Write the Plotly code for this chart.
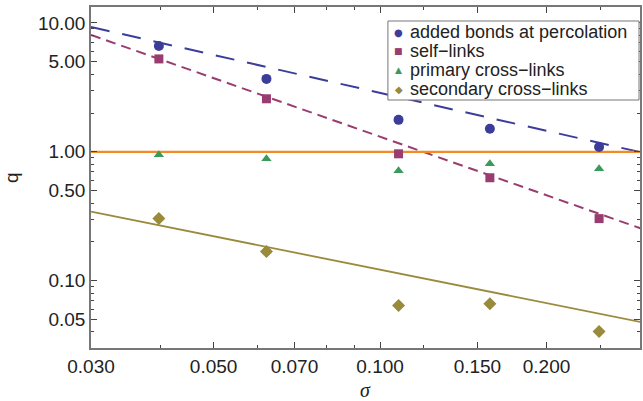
import numpy as np
import plotly.graph_objects as go

# ---- data ----
sigma = [0.0398, 0.0623, 0.108, 0.158, 0.249]
added_bonds = [6.63, 3.68, 1.77, 1.51, 1.09]
self_links = [5.26, 2.58, 0.965, 0.629, 0.303]
primary_cross = [0.948, 0.883, 0.712, 0.807, 0.738]
secondary_cross = [0.303, 0.168, 0.064, 0.0663, 0.0402]

series_names = ["added bonds at percolation", "self\u2212links",
                "primary cross\u2212links", "secondary cross\u2212links"]

# power-law fit lines q = A * (sigma / sigma0)^b
sigma0 = 0.03
fit_added = (9.31, -0.978)
fit_self = (8.07, -1.51)
fit_secondary = (0.343, -0.861)
reference_level = 1.0

line_sigma = [0.03, 0.30]

x_tickvals = [0.03, 0.05, 0.07, 0.1, 0.15, 0.2]
x_ticktext = ["0.030", "0.050", "0.070", "0.100", "0.150", "0.200"]
x_minor = [0.04, 0.06, 0.08, 0.09, 0.12, 0.25, 0.3]
y_tickvals = [0.05, 0.1, 0.5, 1, 5, 10]
y_ticktext = ["0.05", "0.10", "0.50", "1.00", "5.00", "10.00"]
y_minor = [0.04, 0.06, 0.07, 0.08, 0.09, 0.2, 0.3, 0.4, 0.6, 0.7, 0.8, 0.9,
           2, 3, 4, 6, 7, 8, 9]

BLUE = "#3c3d9a"
PURPLE = "#993d71"
GREEN = "#3a9a5c"
OLIVE = "#9a8a3c"
ORANGE = "#f28a26"
colors = [BLUE, PURPLE, GREEN, OLIVE]
symbols = ["circle", "square", "triangle-up", "diamond"]
sizes = [10, 9, 9, 10]
legend_glyphs = ["\u25cf", "\u25a0", "\u25b2", "\u25c6"]
legend_glyph_sizes = [10, 9, 9, 10]

SANS = "Liberation Sans, Arial, sans-serif"


def fit(params):
    A, b = params
    return [A * (s / sigma0) ** b for s in line_sigma]


fig = go.Figure()

# fit lines
fig.add_trace(go.Scatter(x=line_sigma, y=fit(fit_added), mode="lines", showlegend=False,
                         line=dict(color=BLUE, width=2, dash="19px,13px")))
fig.add_trace(go.Scatter(x=line_sigma, y=fit(fit_self), mode="lines", showlegend=False,
                         line=dict(color=PURPLE, width=2, dash="10px,6px")))
fig.add_trace(go.Scatter(x=line_sigma, y=[reference_level] * len(line_sigma), mode="lines",
                         showlegend=False, line=dict(color=ORANGE, width=2.2)))
fig.add_trace(go.Scatter(x=line_sigma, y=fit(fit_secondary), mode="lines", showlegend=False,
                         line=dict(color=OLIVE, width=1.8)))

# markers
for ys, name, c, sym, sz in zip([added_bonds, self_links, primary_cross, secondary_cross],
                                series_names, colors, symbols, sizes):
    fig.add_trace(go.Scatter(x=sigma, y=ys, mode="markers", name=name, showlegend=False,
                             marker=dict(symbol=sym, size=sz, color=c)))

# ---- hand-made legend (Mathematica-style tight rows) ----
PLOT_L, PLOT_R, PLOT_T, PLOT_B = 91, 642, 7, 348
W, H = PLOT_R - PLOT_L, PLOT_B - PLOT_T


def px(xp):
    return (xp - PLOT_L) / W


def py(yp):
    return (PLOT_B - yp) / H


leg_box = (389, 21, 641, 100)
leg_rows = [32, 51, 70, 89]
leg_sym_x = 400
leg_text_x = 410

shapes = [dict(type="rect", xref="paper", yref="paper",
               x0=px(leg_box[0]), x1=px(leg_box[2]), y0=py(leg_box[3]), y1=py(leg_box[1]),
               line=dict(color="#777777", width=1), fillcolor="white", layer="above")]

annotations = [
    dict(text="q", xref="paper", yref="paper", x=-0.145, y=0.5, xanchor="center",
         yanchor="middle", textangle=-90, showarrow=False,
         font=dict(family=SANS, size=19, color="#222222")),
    dict(text="<i>σ</i>", xref="paper", yref="paper", x=0.5, y=-0.123, xanchor="center",
         yanchor="middle", showarrow=False,
         font=dict(family="Liberation Serif, Times New Roman, serif", size=20, color="#222222")),
]
for name, r, g, gs, c in zip(series_names, leg_rows, legend_glyphs, legend_glyph_sizes, colors):
    annotations.append(dict(text=g, xref="paper", yref="paper", x=px(leg_sym_x),
                            y=py(r), xanchor="center", yanchor="middle", showarrow=False,
                            borderpad=0,
                            font=dict(family="DejaVu Sans", size=gs, color=c)))
    annotations.append(dict(text=name, xref="paper", yref="paper", x=px(leg_text_x),
                            y=py(r), xanchor="left", yanchor="middle", showarrow=False,
                            borderpad=0,
                            font=dict(family=SANS, size=18, color="#222222")))

axis_common = dict(
    type="log", showgrid=False, zeroline=False, showline=True, linecolor="#777777",
    linewidth=1.5, mirror="ticks", ticks="inside", ticklen=6, tickwidth=1, tickcolor="#444444",
    tickfont=dict(family=SANS, size=19, color="#222222"),
)

fig.update_layout(
    width=643, height=401,
    margin=dict(l=PLOT_L, r=643 - PLOT_R, t=PLOT_T, b=401 - PLOT_B),
    paper_bgcolor="white", plot_bgcolor="white",
    xaxis=dict(axis_common, range=[np.log10(0.03), -0.5298],
               tickmode="array", tickvals=x_tickvals, ticktext=x_ticktext,
               minor=dict(tickmode="array", tickvals=x_minor, ticks="inside", ticklen=3,
                          tickcolor="#444444")),
    yaxis=dict(axis_common, range=[np.log10(0.03), 1.124],
               tickmode="array", tickvals=y_tickvals, ticktext=y_ticktext,
               minor=dict(tickmode="array", tickvals=y_minor, ticks="inside", ticklen=3,
                          tickcolor="#444444")),
    showlegend=False,
    shapes=shapes,
    annotations=annotations,
)

fig.write_html("out.html")
